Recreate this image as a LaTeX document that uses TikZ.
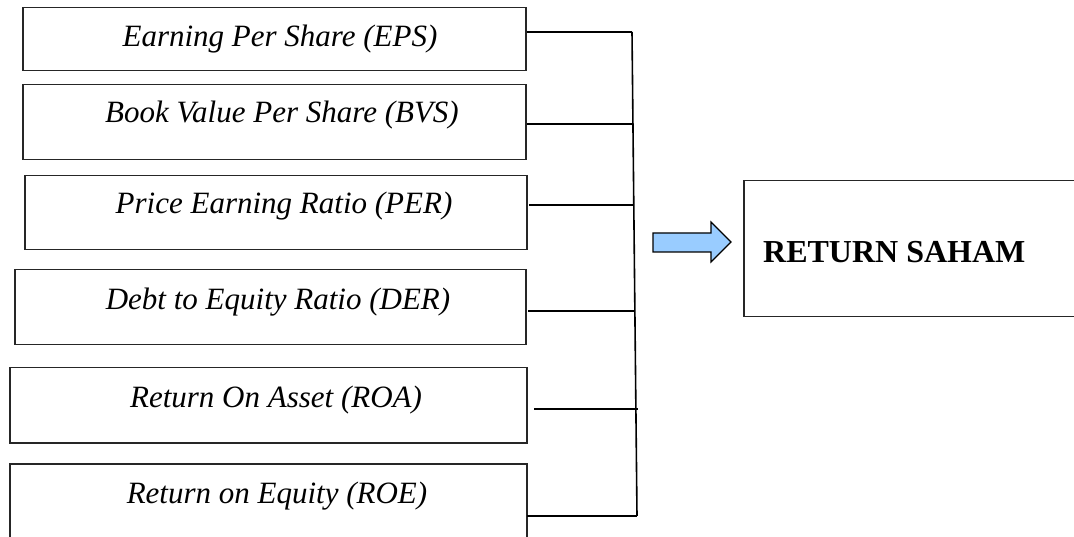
\documentclass[tikz,border=0pt]{standalone}
\usepackage{fontspec}
\setmainfont{Liberation Serif}
\begin{document}
\begin{tikzpicture}[x=1pt,y=-1pt,
  boxstyle/.style={draw=black!85,line width=1.5pt,rectangle,inner sep=0pt,anchor=north west},
  lbl/.style={inner sep=0pt,anchor=base,font=\fontsize{31}{37}\selectfont\itshape},
  conn/.style={draw=black,line width=1.6pt}]
\useasboundingbox (0,0) rectangle (1074,537);
% left boxes
\node[boxstyle,minimum width=503pt,minimum height=63pt] (b1) at (22,7) {};
\node[boxstyle,minimum width=503pt,minimum height=75pt] (b2) at (22,84) {};
\node[boxstyle,minimum width=502pt,minimum height=74pt] (b3) at (24,175) {};
\node[boxstyle,minimum width=511pt,minimum height=75pt] (b4) at (14,269) {};
\node[boxstyle,minimum width=517pt,minimum height=75pt] (b5) at (9,367) {};
\node[boxstyle,minimum width=517pt,minimum height=90pt] (b6) at (9,463) {};
% texts
\node[lbl] (t1) at (280,47) {Earning Per Share (EPS)};
\node[lbl] (t2) at (282,123) {Book Value Per Share (BVS)};
\node[lbl] (t3) at (284,214) {Price Earning Ratio (PER)};
\node[lbl] (t4) at (278,310) {Debt to Equity Ratio (DER)};
\node[lbl] (t5) at (276,407) {Return On Asset (ROA)};
\node[lbl] (t6) at (277,503) {Return on Equity (ROE)};
% bus
\coordinate (bt) at (632,32);
\coordinate (bb) at (637,516);
\draw[conn] (bt) -- (bb);
\coordinate (s1) at (527,32);  \coordinate (e1) at (632,32);
\coordinate (s2) at (527,124); \coordinate (e2) at (633,124);
\coordinate (s3) at (529,205); \coordinate (e3) at (634,205);
\coordinate (s4) at (528,311); \coordinate (e4) at (635,311);
\coordinate (s5) at (534,409); \coordinate (e5) at (638,409);
\coordinate (s6) at (527,516); \coordinate (e6) at (637,516);
\draw[conn] (s1) -- (e1);
\draw[conn] (s2) -- (e2);
\draw[conn] (s3) -- (e3);
\draw[conn] (s4) -- (e4);
\draw[conn] (s5) -- (e5);
\draw[conn] (s6) -- (e6);
% block arrow
\definecolor{arrowblue}{HTML}{99CCFF}
\draw[fill=arrowblue,draw=black,line width=1.1pt,line join=miter]
  (653,233) -- (711,233) -- (711,222) -- (731,242) -- (711,262) -- (711,252) -- (653,252) -- cycle;
% result box
\node[boxstyle,minimum width=340pt,minimum height=136pt] (r) at (743,180) {};
\node[inner sep=0pt,anchor=base west,font=\fontsize{32}{38}\selectfont\bfseries] (rt) at (763,263) {RETURN SAHAM};
\end{tikzpicture}
\end{document}
